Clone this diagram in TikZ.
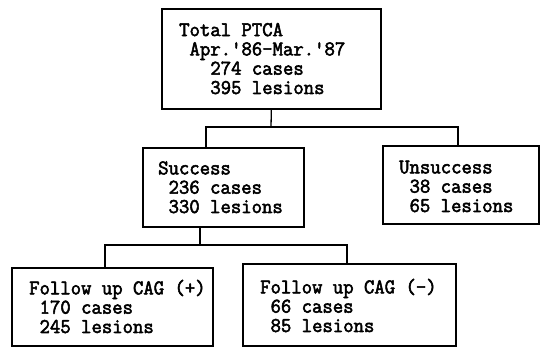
\documentclass[tikz,border=0pt]{standalone}
\usepackage{fontspec}
\setmonofont{Latin Modern Mono}[FakeStretch=0.96,FakeBold=2.5]
\begin{document}
\begin{tikzpicture}[x=1pt,y=-1pt,
  boxst/.style={draw=black,line width=1.7pt,inner sep=0pt,anchor=north west},
  txt/.style={font=\ttfamily\fontsize{21}{19.3}\selectfont,align=left,inner sep=0pt,anchor=base west},
  conn/.style={draw=black,line width=1.3pt}]
\useasboundingbox[fill=white] (0,0) rectangle (542,347);
% boxes
\node[boxst,minimum width=219pt,minimum height=100pt] (top) at (161,8) {};
\node[boxst,minimum width=161pt,minimum height=79pt] (succ) at (142,147) {};
\node[boxst,minimum width=156pt,minimum height=78pt] (unsucc) at (382,145) {};
\node[boxst,minimum width=201pt,minimum height=78pt] (fuplus) at (11,267) {};
\node[boxst,minimum width=213pt,minimum height=82pt] (fuminus) at (242,263) {};
% texts (anchored at the baseline of the last line)
\node[txt] (toptxt) at (179,94) {Total PTCA\\\hphantom{0}Apr.'86-Mar.'87\\\hphantom{000}274 cases\\\hphantom{000}395 lesions};
\node[txt] (succtxt) at (158,213) {Success\\\hphantom{0}236 cases\\\hphantom{0}330 lesions};
\node[txt] (unsucctxt) at (399,212) {Unsuccess\\\hphantom{0}38 cases\\\hphantom{0}65 lesions};
\node[txt] (fuplustxt) at (29,333) {Follow up CAG (+)\\\hphantom{0}170 cases\\\hphantom{0}245 lesions};
\node[txt] (fuminustxt) at (260,332) {Follow up CAG (-)\\\hphantom{0}66 cases\\\hphantom{0}85 lesions};
% junctions
\coordinate (j1) at (271,127);
\coordinate (aL) at (206,127);
\coordinate (aR) at (458,127);
\coordinate (j2) at (200,245);
\coordinate (bL) at (105,245);
\coordinate (bR) at (347,245);
% connectors
\draw[conn] (top.south) -- (j1);
\draw[conn] (aL |- succ.north) -- (aL) -- (aR) -- (aR |- unsucc.north);
\draw[conn] (j2 |- succ.south) -- (j2);
\draw[conn] (bL |- fuplus.north) -- (bL) -- (bR) -- (bR |- fuminus.north);
\end{tikzpicture}
\end{document}
